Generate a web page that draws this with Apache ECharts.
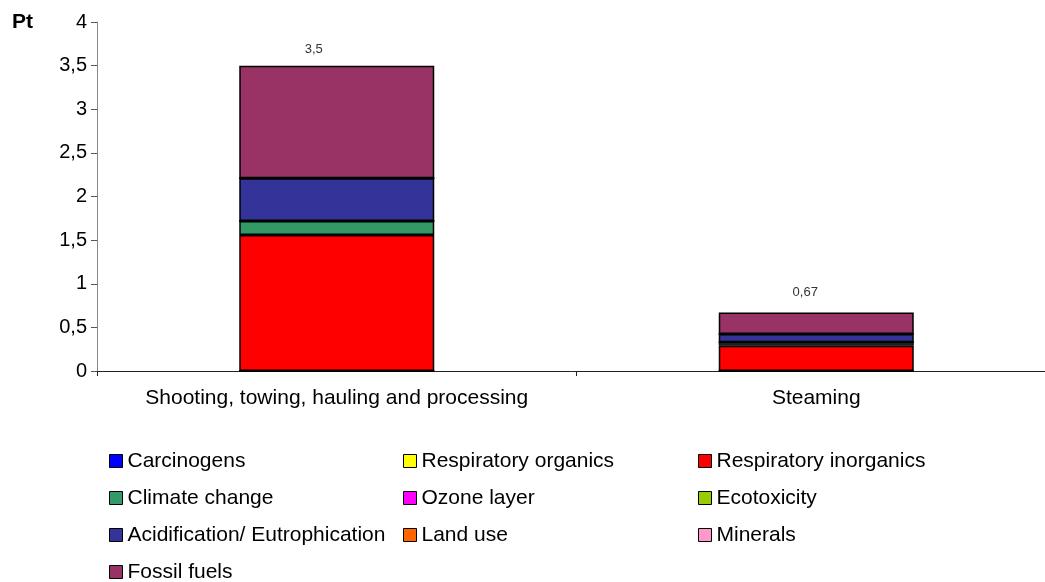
<!DOCTYPE html>
<html>
<head>
<meta charset="utf-8">
<script src="https://cdn.jsdelivr.net/npm/echarts@6/dist/echarts.min.js"></script>
<style>
  html, body { margin: 0; padding: 0; background: #fff; }
  #chart { width: 1045px; height: 582px; }
</style>
</head>
<body>
<div id="chart"></div>
<script>
// Impact categories per process stage (Eco-indicator points)
const categories = ['Shooting, towing, hauling and processing', 'Steaming'];

const carcinogens = [0, 0];
const respiratoryOrganics = [0, 0];
const respiratoryInorganics = [1.56, 0.29];
const climateChange = [0.16, 0.04];
const ozoneLayer = [0, 0];
const ecotoxicity = [0, 0];
const acidification = [0.49, 0.095];
const landUse = [0, 0];
const minerals = [0, 0];
const fossilFuels = [1.29, 0.245];

const yTicks = ['0', '0,5', '1', '1,5', '2', '2,5', '3', '3,5', '4'];

const seriesDefs = [
  { name: 'Carcinogens', data: carcinogens, color: '#0000FF' },
  { name: 'Respiratory organics', data: respiratoryOrganics, color: '#FFFF00' },
  { name: 'Respiratory inorganics', data: respiratoryInorganics, color: '#FF0000' },
  { name: 'Climate change', data: climateChange, color: '#339966' },
  { name: 'Ozone layer', data: ozoneLayer, color: '#FF00FF' },
  { name: 'Ecotoxicity', data: ecotoxicity, color: '#99CC00' },
  { name: 'Acidification/ Eutrophication', data: acidification, color: '#333399' },
  { name: 'Land use', data: landUse, color: '#FF6600' },
  { name: 'Minerals', data: minerals, color: '#FF99CC' },
  { name: 'Fossil fuels', data: fossilFuels, color: '#993366' }
];

// Stack totals shown above each bar
const totals = categories.map((_, i) =>
  Math.round(seriesDefs.reduce((s, d) => s + d.data[i], 0) * 100) / 100
);
const fmt = v => String(v).replace('.', ',');

const FONT = '"Liberation Sans", Arial, sans-serif';
// Placement of the total label relative to each bar's top
const totalLabelPlacement = [
  { offset: [-23, 0], distance: 10 },
  { offset: [-11, 0], distance: 14 }
];

const series = seriesDefs.map((d, idx) => {
  const isTop = idx === seriesDefs.length - 1;
  const s = {
    name: d.name,
    type: 'bar',
    stack: 'total',
    barWidth: 195,
    data: isTop
      ? d.data.map((v, i) => ({ value: v, label: totalLabelPlacement[i] }))
      : d.data,
    itemStyle: { color: d.color, borderColor: '#000', borderWidth: 1.5 },
    emphasis: { disabled: true }
  };
  if (isTop) {
    s.label = {
      show: true,
      position: 'top',
      color: '#333',
      fontFamily: FONT,
      fontSize: 13,
      formatter: p => fmt(totals[p.dataIndex])
    };
  }
  return s;
});

const legendBase = {
  orient: 'vertical',
  top: 445,
  height: 160,
  itemGap: 15,
  itemWidth: 13,
  itemHeight: 13,
  icon: 'rect',
  itemStyle: { borderColor: '#000', borderWidth: 1 },
  textStyle: { fontFamily: FONT, fontSize: 21, color: '#000', lineHeight: 22 },
  selectedMode: false
};

const chart = echarts.init(document.getElementById('chart'));
chart.setOption({
  backgroundColor: '#fff',
  animation: false,
  grid: { left: 97, top: 22, width: 959, height: 349, outerBoundsMode: 'none' },
  graphic: [{
    type: 'text',
    left: 12,
    top: 12,
    style: { text: 'Pt', font: 'bold 21px ' + FONT, fill: '#000' }
  }],
  legend: [
    Object.assign({}, legendBase, { left: 104, data: ['Carcinogens', 'Climate change', 'Acidification/ Eutrophication', 'Fossil fuels'] }),
    Object.assign({}, legendBase, { left: 398, data: ['Respiratory organics', 'Ozone layer', 'Land use'] }),
    Object.assign({}, legendBase, { left: 693, data: ['Respiratory inorganics', 'Ecotoxicity', 'Minerals'] })
  ],
  xAxis: {
    type: 'category',
    data: categories,
    axisLine: { lineStyle: { color: '#222', width: 1 } },
    axisTick: { show: true, interval: 0, length: 5, lineStyle: { color: '#222' } },
    axisLabel: { interval: 0, color: '#000', fontFamily: FONT, fontSize: 21, margin: 17 }
  },
  yAxis: {
    type: 'value',
    min: 0,
    max: 4,
    interval: 0.5,
    axisLine: { show: true, lineStyle: { color: '#888', width: 1 } },
    axisTick: { show: true, length: 6, lineStyle: { color: '#555' } },
    splitLine: { show: false },
    axisLabel: {
      color: '#000',
      fontFamily: FONT,
      fontSize: 20,
      margin: 10,
      formatter: v => yTicks[Math.round(v / 0.5)]
    }
  },
  series: series
});
</script>
</body>
</html>
